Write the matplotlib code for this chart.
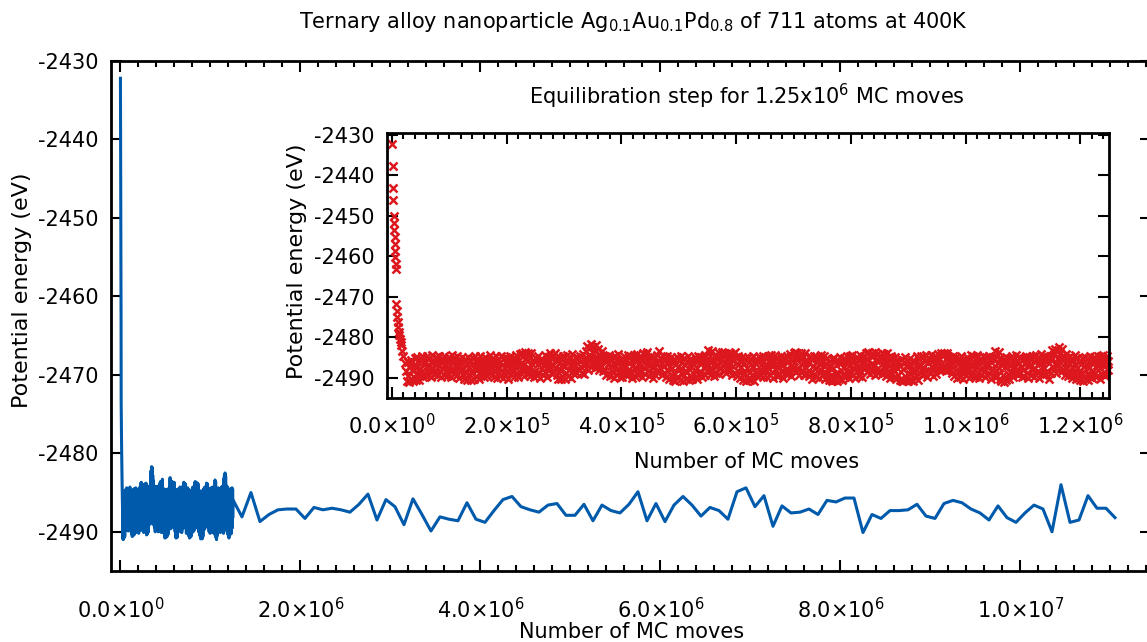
import numpy as np
import matplotlib.pyplot as plt
from matplotlib.ticker import FixedLocator, FixedFormatter, MultipleLocator

plt.rcParams['font.family'] = 'DejaVu Sans'
plt.rcParams['axes.unicode_minus'] = False

# start of the equilibration run (energy still dropping)
trans_moves = [0, 1000, 2000, 2500, 3000, 3500, 4000, 4500, 5000, 5500, 6000, 6500,
               7000, 7500, 8000, 9000, 10000, 11000, 12000, 13000, 14000, 15000,
               16000, 18000, 20000, 22000]
trans_energy = [-2432.2, -2437.6, -2443.2, -2446.0, -2450.0, -2451.8, -2453.5, -2455.2,
                -2457.0, -2458.6, -2460.1, -2461.8, -2463.2, -2471.8, -2473.5, -2475.0,
                -2476.3, -2477.5, -2478.6, -2479.5, -2480.4, -2481.2, -2482.0, -2483.5,
                -2484.6, -2486.3]

# equilibrated part of the run, one sample every 1250 moves from 25000 (a row = 12500 moves)
band_start, band_step = 25000, 1250
band_energy = [
    -2488.4, -2490.8, -2486.1, -2489.5, -2491.0, -2487.2, -2485.6, -2490.2, -2488.0, -2490.9,
    -2486.8, -2489.9, -2485.2, -2490.5, -2487.7, -2484.9, -2489.1, -2486.3, -2490.6, -2487.9,
    -2485.4, -2488.6, -2484.7, -2489.7, -2486.5, -2488.9, -2485.8, -2487.4, -2489.6, -2484.6,
    -2487.1, -2489.3, -2485.0, -2488.2, -2486.0, -2489.8, -2484.4, -2487.6, -2485.9, -2489.0,
    -2486.7, -2484.8, -2488.8, -2485.5, -2489.4, -2487.0, -2484.5, -2488.3, -2486.2, -2489.9,
    -2485.3, -2487.8, -2489.2, -2484.6, -2486.6, -2488.5, -2485.7, -2489.6, -2487.3, -2484.9,
    -2488.1, -2485.9, -2489.7, -2486.4, -2484.3, -2487.9, -2489.0, -2485.1, -2488.6, -2486.8,
    -2484.7, -2489.4, -2487.2, -2485.6, -2490.0, -2486.1, -2488.4, -2484.9, -2487.5, -2489.3,
    -2486.0, -2490.3, -2485.4, -2488.7, -2486.9, -2490.6, -2484.8, -2489.1, -2487.4, -2485.7,
    -2490.5, -2486.6, -2488.9, -2485.2, -2490.2, -2487.5, -2484.6, -2489.5, -2486.3, -2488.2,
    -2485.8, -2490.4, -2487.0, -2484.5, -2489.2, -2486.4, -2488.5, -2485.3, -2489.8, -2487.7,
    -2484.9, -2488.0, -2486.2, -2489.6, -2485.5, -2487.9, -2484.4, -2488.8, -2486.7, -2489.4,
    -2487.3, -2485.0, -2489.9, -2486.5, -2488.3, -2484.7, -2487.6, -2490.1, -2485.6, -2488.9,
    -2486.1, -2489.5, -2484.6, -2488.0, -2486.8, -2490.0, -2485.2, -2487.7, -2489.3, -2484.8,
    -2488.6, -2486.3, -2490.2, -2485.4, -2487.9, -2484.5, -2489.0, -2486.9, -2488.4, -2485.9,
    -2489.7, -2485.1, -2487.4, -2484.3, -2488.9, -2486.0, -2489.8, -2485.6, -2487.2, -2484.2,
    -2486.4, -2483.8, -2488.1, -2484.6, -2489.5, -2485.3, -2483.7, -2487.8, -2485.9, -2489.1,
    -2484.0, -2487.5, -2485.2, -2489.6, -2483.9, -2486.7, -2488.8, -2485.5, -2489.9, -2486.2,
    -2488.3, -2485.0, -2489.4, -2486.5, -2484.6, -2488.7, -2486.0, -2490.1, -2485.4, -2487.6,
    -2485.7, -2489.2, -2486.8, -2484.4, -2488.5, -2485.8, -2489.7, -2487.0, -2484.9, -2488.1,
    -2483.9, -2487.3, -2485.1, -2489.0, -2484.3, -2486.9, -2488.6, -2483.8, -2487.7, -2485.5,
    -2489.3, -2484.7, -2490.4, -2486.4, -2488.2, -2485.2, -2490.3, -2486.8, -2484.5, -2489.8,
    -2487.1, -2490.2, -2485.6, -2488.8, -2484.4, -2489.6, -2486.3, -2488.0, -2485.0, -2490.0,
    -2486.5, -2484.2, -2488.4, -2485.7, -2489.1, -2486.9, -2484.8, -2488.6, -2485.3, -2487.9,
    -2485.1, -2488.0, -2484.5, -2487.3, -2485.8, -2488.7, -2484.1, -2486.6, -2489.0, -2485.4,
    -2483.4, -2486.5, -2482.2, -2485.7, -2488.1, -2482.6, -2484.9, -2487.3, -2481.7, -2485.2,
    -2482.4, -2486.0, -2483.1, -2487.6, -2481.9, -2484.8, -2486.9, -2482.8, -2485.5, -2488.2,
    -2484.3, -2487.0, -2485.6, -2483.5, -2488.4, -2485.1, -2487.8, -2484.6, -2489.2, -2486.1,
    -2485.0, -2488.9, -2486.4, -2484.3, -2489.5, -2487.1, -2485.4, -2488.3, -2484.8, -2490.0,
    -2486.6, -2484.5, -2489.0, -2485.7, -2487.9, -2484.2, -2488.6, -2486.2, -2489.7, -2485.3,
    -2487.4, -2489.8, -2485.6, -2488.1, -2484.7, -2487.0, -2489.4, -2485.9, -2488.5, -2484.3,
    -2489.1, -2486.3, -2484.6, -2488.7, -2485.5, -2490.0, -2486.8, -2484.4, -2487.6, -2489.5,
    -2485.2, -2487.9, -2484.1, -2489.3, -2486.5, -2488.4, -2484.9, -2487.2, -2489.9, -2485.8,
    -2483.8, -2487.5, -2485.0, -2489.0, -2484.2, -2486.7, -2483.6, -2488.3, -2485.7, -2489.6,
    -2486.9, -2484.6, -2488.8, -2485.3, -2490.1, -2487.4, -2484.8, -2489.2, -2486.0, -2488.5,
    -2484.3, -2488.0, -2485.9, -2483.3, -2487.6, -2485.0, -2489.4, -2486.4, -2484.7, -2488.9,
    -2487.2, -2485.4, -2489.8, -2486.6, -2484.5, -2488.3, -2485.8, -2490.2, -2487.0, -2484.9,
    -2489.3, -2486.1, -2490.6, -2485.3, -2488.7, -2490.8, -2486.5, -2484.8, -2489.9, -2487.3,
    -2485.6, -2490.5, -2487.8, -2484.6, -2489.1, -2486.2, -2490.7, -2485.2, -2488.4, -2486.9,
    -2490.4, -2485.9, -2488.6, -2484.7, -2490.6, -2487.1, -2485.4, -2489.5, -2486.3, -2490.2,
    -2486.7, -2489.0, -2484.9, -2488.2, -2485.6, -2490.3, -2486.1, -2484.5, -2488.9, -2486.4,
    -2484.8, -2488.5, -2486.0, -2489.7, -2485.1, -2487.4, -2484.3, -2489.2, -2486.6, -2488.0,
    -2485.5, -2483.1, -2487.9, -2484.6, -2489.3, -2486.2, -2483.4, -2488.1, -2485.8, -2489.6,
    -2487.0, -2484.4, -2488.7, -2485.3, -2483.7, -2486.8, -2489.0, -2484.9, -2487.5, -2485.6,
    -2483.6, -2487.2, -2484.5, -2488.4, -2483.9, -2486.1, -2488.9, -2484.2, -2487.7, -2485.0,
    -2486.6, -2483.8, -2488.2, -2485.4, -2489.3, -2484.1, -2487.0, -2485.7, -2483.7, -2488.8,
    -2485.2, -2489.5, -2486.8, -2484.6, -2488.6, -2485.9, -2490.0, -2487.3, -2484.8, -2489.1,
    -2490.6, -2486.4, -2488.9, -2485.1, -2490.8, -2487.6, -2484.9, -2490.3, -2486.0, -2488.5,
    -2490.5, -2485.7, -2489.2, -2487.0, -2484.6, -2490.7, -2486.3, -2488.8, -2485.3, -2489.6,
    -2486.2, -2488.7, -2484.8, -2489.4, -2486.9, -2485.1, -2488.3, -2484.5, -2489.8, -2487.2,
    -2485.0, -2488.1, -2486.5, -2489.7, -2484.7, -2487.6, -2485.8, -2489.2, -2486.0, -2484.3,
    -2488.6, -2485.5, -2490.0, -2486.8, -2484.4, -2488.0, -2485.2, -2489.5, -2487.4, -2485.9,
    -2489.3, -2486.3, -2484.6, -2488.4, -2485.7, -2490.1, -2486.9, -2484.9, -2488.7, -2485.4,
    -2487.8, -2484.5, -2489.1, -2486.1, -2488.3, -2484.2, -2487.0, -2489.6, -2485.6, -2488.0,
    -2484.0, -2487.4, -2483.7, -2488.6, -2485.3, -2483.9, -2487.9, -2485.0, -2489.2, -2484.6,
    -2486.7, -2483.8, -2488.1, -2484.9, -2489.4, -2486.2, -2483.9, -2487.6, -2485.5, -2488.9,
    -2485.8, -2489.5, -2486.3, -2484.7, -2488.8, -2485.4, -2490.2, -2487.1, -2484.5, -2489.0,
    -2487.5, -2484.8, -2489.7, -2486.0, -2488.4, -2485.2, -2490.0, -2486.6, -2484.4, -2488.2,
    -2485.9, -2489.2, -2487.0, -2484.6, -2490.4, -2486.5, -2488.7, -2485.1, -2489.9, -2487.3,
    -2490.6, -2486.8, -2489.3, -2485.4, -2490.8, -2487.7, -2485.0, -2490.5, -2486.1, -2488.9,
    -2490.7, -2485.7, -2489.0, -2486.4, -2490.3, -2484.9, -2488.2, -2490.6, -2486.0, -2489.4,
    -2487.4, -2485.2, -2489.7, -2486.3, -2484.7, -2488.5, -2485.8, -2490.1, -2487.0, -2484.5,
    -2488.8, -2486.0, -2484.3, -2489.2, -2485.5, -2487.7, -2490.0, -2486.5, -2484.9, -2488.3,
    -2485.6, -2489.6, -2487.1, -2484.4, -2488.6, -2486.2, -2489.8, -2485.0, -2487.9, -2484.6,
    -2487.3, -2483.8, -2488.5, -2485.4, -2483.6, -2487.0, -2489.1, -2484.3, -2486.6, -2483.9,
    -2488.2, -2484.7, -2486.9, -2483.7, -2489.4, -2485.6, -2487.8, -2484.1, -2488.9, -2485.8,
    -2484.5, -2488.0, -2485.3, -2483.8, -2489.0, -2486.4, -2484.2, -2487.5, -2485.1, -2489.6,
    -2486.7, -2483.9, -2488.4, -2485.6, -2490.0, -2486.9, -2484.6, -2488.7, -2485.0, -2487.8,
    -2489.8, -2486.3, -2484.8, -2490.2, -2487.5, -2485.5, -2489.3, -2486.0, -2490.5, -2487.2,
    -2485.4, -2490.7, -2487.9, -2490.9, -2486.2, -2489.6, -2484.9, -2490.6, -2487.4, -2485.8,
    -2490.8, -2486.6, -2489.1, -2485.2, -2490.5, -2487.8, -2485.9, -2490.9, -2486.4, -2488.6,
    -2486.0, -2489.4, -2484.7, -2490.6, -2487.1, -2485.3, -2488.9, -2486.5, -2484.6, -2489.2,
    -2487.6, -2484.8, -2489.0, -2485.9, -2488.3, -2484.4, -2489.7, -2486.2, -2488.0, -2485.1,
    -2485.7, -2488.6, -2484.3, -2487.4, -2489.5, -2485.8, -2488.1, -2484.7, -2486.9, -2489.1,
    -2486.3, -2484.2, -2487.8, -2485.0, -2488.2, -2483.8, -2486.6, -2488.0, -2484.5, -2487.3,
    -2484.0, -2487.1, -2485.4, -2488.3, -2483.9, -2486.8, -2484.7, -2487.9, -2485.6, -2488.1,
    -2485.2, -2488.9, -2486.4, -2484.6, -2489.6, -2485.9, -2488.0, -2484.8, -2490.0, -2486.7,
    -2488.5, -2485.3, -2489.8, -2487.0, -2484.5, -2488.8, -2486.1, -2490.2, -2485.5, -2487.6,
    -2486.4, -2489.3, -2484.9, -2488.1, -2485.7, -2490.0, -2486.9, -2484.4, -2489.5, -2487.2,
    -2484.7, -2488.6, -2486.0, -2489.7, -2485.1, -2487.4, -2484.3, -2488.9, -2486.5, -2490.1,
    -2487.8, -2485.4, -2489.2, -2486.2, -2484.6, -2488.4, -2485.8, -2489.9, -2487.0, -2484.8,
    -2489.4, -2486.7, -2484.5, -2488.7, -2485.3, -2490.3, -2486.0, -2488.2, -2484.9, -2489.6,
    -2485.6, -2483.4, -2488.0, -2484.7, -2489.5, -2486.3, -2483.6, -2487.7, -2490.4, -2485.2,
    -2490.8, -2486.9, -2489.3, -2485.5, -2491.0, -2487.4, -2484.8, -2490.6, -2486.1, -2489.0,
    -2486.5, -2490.2, -2485.0, -2488.6, -2486.8, -2484.6, -2489.8, -2487.1, -2485.4, -2488.9,
    -2484.4, -2487.8, -2485.9, -2489.4, -2486.3, -2488.5, -2484.9, -2487.3, -2489.9, -2485.7,
    -2488.2, -2485.1, -2489.6, -2486.7, -2484.5, -2488.8, -2485.6, -2490.1, -2487.0, -2484.8,
    -2486.9, -2489.3, -2485.3, -2488.0, -2484.6, -2487.5, -2489.7, -2486.1, -2484.3, -2488.6,
    -2485.0, -2488.4, -2486.6, -2490.0, -2485.7, -2484.2, -2488.9, -2486.3, -2489.4, -2485.5,
    -2487.7, -2484.5, -2489.1, -2485.9, -2488.3, -2484.8, -2490.2, -2486.4, -2484.6, -2488.8,
    -2485.3, -2483.2, -2487.4, -2484.4, -2482.8, -2486.7, -2488.9, -2483.5, -2487.0, -2485.1,
    -2482.5, -2486.0, -2483.9, -2488.5, -2485.4, -2482.9, -2487.8, -2484.6, -2489.2, -2486.3,
    -2484.1, -2487.5, -2485.2, -2489.6, -2486.4, -2484.7, -2488.8, -2485.9, -2490.0, -2487.3,
    -2485.6, -2489.0, -2486.8, -2484.3, -2490.3, -2487.5, -2485.0, -2489.4, -2486.1, -2488.3,
    -2490.6, -2486.5, -2488.9, -2485.2, -2490.8, -2487.2, -2484.8, -2490.4, -2486.7, -2489.1,
    -2485.4, -2490.5, -2487.6, -2484.6, -2489.3, -2486.2, -2490.1, -2485.8, -2488.4, -2484.9,
    -2488.7, -2485.5, -2489.8, -2486.9, -2484.5, -2488.0, -2485.7, -2490.2, -2486.4, -2484.7,
    -2489.0, -2486.3, -2484.4, -2488.6, -2485.1, -2489.5, -2486.8, -2484.6, -2488.2, -2485.9,
]

# production run, one sample every 1e5 moves from 1.35e6
prod_start, prod_step = 1.35e6, 1e5
prod_energy = [
    -2488.1, -2485.0, -2488.7, -2487.8, -2487.2, -2487.1, -2487.1, -2488.3, -2486.9, -2487.2,
    -2487.0, -2487.2, -2487.5, -2486.5, -2485.2, -2488.5, -2485.9, -2486.8, -2489.1, -2485.8,
    -2487.8, -2489.9, -2488.1, -2488.4, -2488.6, -2486.3, -2488.4, -2488.8, -2487.3, -2485.9,
    -2485.5, -2486.8, -2487.2, -2487.5, -2486.6, -2486.4, -2487.9, -2487.9,
    -2486.5, -2488.6, -2486.6, -2487.3, -2487.6, -2486.5, -2484.9, -2488.6, -2486.4, -2488.7,
    -2486.6, -2485.5, -2486.6, -2488.0, -2486.9, -2487.3, -2488.4, -2484.9, -2484.4, -2486.8,
    -2485.4, -2489.3, -2486.7, -2487.6, -2487.5, -2487.1, -2487.8, -2486.0, -2486.2, -2485.7,
    -2485.7, -2490.1, -2487.8, -2488.3, -2487.3, -2487.3, -2487.2, -2486.5, -2488.0, -2488.3,
    -2486.4, -2486.0,
    -2486.3, -2487.1, -2487.6, -2488.5, -2486.7, -2488.2, -2488.8, -2487.6, -2486.6, -2487.1,
    -2490.0, -2484.0, -2488.8, -2488.5, -2485.4, -2487.0, -2487.0, -2488.2,
]

main_xticks = [0, 2e6, 4e6, 6e6, 8e6, 1e7]
main_xlabels = [r'0.0$\times$10$^{0}$', r'2.0$\times$10$^{6}$', r'4.0$\times$10$^{6}$',
                r'6.0$\times$10$^{6}$', r'8.0$\times$10$^{6}$', r'1.0$\times$10$^{7}$']
inset_xticks = [0, 2e5, 4e5, 6e5, 8e5, 1e6, 1.2e6]
inset_xlabels = [r'0.0$\times$10$^{0}$', r'2.0$\times$10$^{5}$', r'4.0$\times$10$^{5}$',
                 r'6.0$\times$10$^{5}$', r'8.0$\times$10$^{5}$', r'1.0$\times$10$^{6}$',
                 r'1.2$\times$10$^{6}$']
energy_ticks = [-2490, -2480, -2470, -2460, -2450, -2440, -2430]

BLUE = '#005aab'
RED = '#dc181e'

band_moves = band_start + band_step * np.arange(len(band_energy))
prod_moves = prod_start + prod_step * np.arange(len(prod_energy))
eq_moves = np.concatenate([trans_moves, band_moves])
eq_energy = np.concatenate([trans_energy, band_energy])
all_moves = np.concatenate([eq_moves, prod_moves])
all_energy = np.concatenate([eq_energy, prod_energy])

W, H = 1147, 642
fig = plt.figure(figsize=(W / 100, H / 100), dpi=100, facecolor='white')


def px_axes(left, top, right, bottom):
    return fig.add_axes((left / W, 1 - bottom / H, (right - left) / W, (bottom - top) / H))


def style_axes(ax, pad_x, pad_y):
    ax.tick_params(which='both', direction='in', top=True, right=True, labelsize=15,
                   width=1.5)
    ax.tick_params(which='major', length=8)
    ax.tick_params(which='minor', length=4)
    ax.tick_params(axis='x', pad=pad_x)
    ax.tick_params(axis='y', pad=pad_y)
    for s in ax.spines.values():
        s.set_linewidth(2)


# ---- main axes ----
ax = px_axes(111, 61, 1151, 571)
ax.plot(all_moves, all_energy, color=BLUE, lw=2.2)
ax.set_xlim(-1.05e5, 1.145e7)
ax.set_ylim(-2495, -2430)
ax.xaxis.set_major_locator(FixedLocator(main_xticks))
ax.xaxis.set_major_formatter(FixedFormatter(main_xlabels))
ax.xaxis.set_minor_locator(MultipleLocator(2e5))
ax.yaxis.set_major_locator(FixedLocator(energy_ticks))
ax.yaxis.set_major_formatter(FixedFormatter([str(v) for v in energy_ticks]))
style_axes(ax, 19, 9)

# ---- inset ----
ins = px_axes(387, 133, 1109, 398)
ins.plot(eq_moves, eq_energy, 'x', color=RED, ms=5.5, mew=1.8, clip_on=False)
ins.set_xlim(-8.7e3, 1.25e6)
ins.set_ylim(-2495, -2429.5)
ins.xaxis.set_major_locator(FixedLocator(inset_xticks))
ins.xaxis.set_major_formatter(FixedFormatter(inset_xlabels))
ins.xaxis.set_minor_locator(MultipleLocator(2e4))
ins.yaxis.set_major_locator(FixedLocator(energy_ticks))
ins.yaxis.set_major_formatter(FixedFormatter([str(v) for v in energy_ticks]))
style_axes(ins, 11, 9)

# ---- texts ----
fig.text(633 / W, 1 - 22 / H,
         r'Ternary alloy nanoparticle Ag$_{0.1}$Au$_{0.1}$Pd$_{0.8}$ of 711 atoms at 400K',
         ha='center', va='center', fontsize=15)
fig.text(747 / W, 1 - 96 / H, r'Equilibration step for 1.25x10$^{6}$ MC moves',
         ha='center', va='center', fontsize=15)
fig.text(632 / W, 1 - 632 / H, 'Number of MC moves', ha='center', va='center', fontsize=15)
fig.text(747 / W, 1 - 462 / H, 'Number of MC moves', ha='center', va='center', fontsize=15)
fig.text(22 / W, 1 - 290 / H, 'Potential energy (eV)', ha='center', va='center',
         rotation=90, fontsize=16)
fig.text(297 / W, 1 - 261 / H, 'Potential energy (eV)', ha='center', va='center',
         rotation=90, fontsize=16)

fig.savefig('out.png', dpi=100, facecolor='white')
